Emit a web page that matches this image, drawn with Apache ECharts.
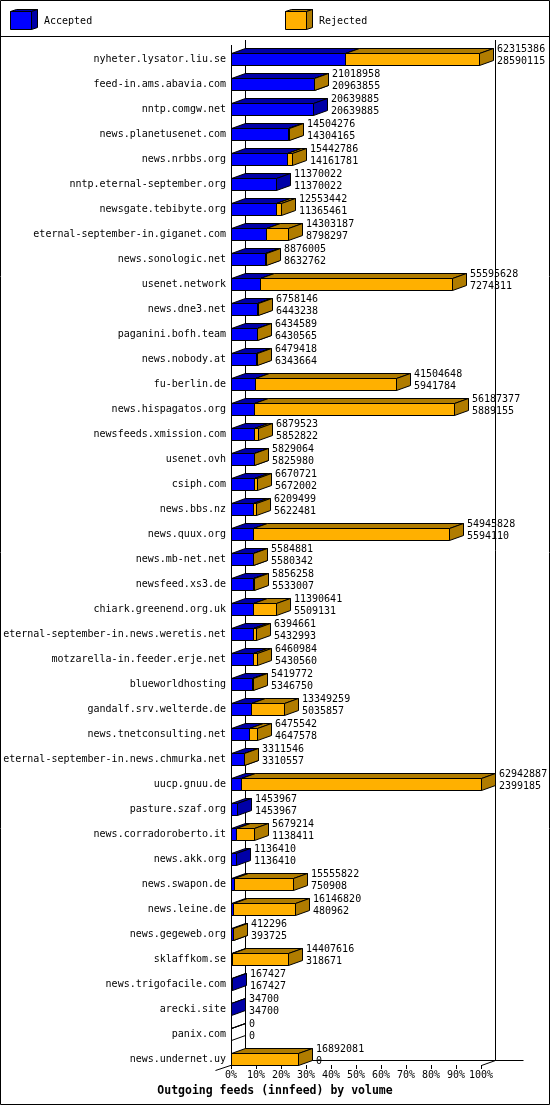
<!DOCTYPE html>
<html><head><meta charset="utf-8">
<script src="https://cdn.jsdelivr.net/npm/echarts@6/dist/echarts.min.js"></script>
<style>html,body{margin:0;padding:0;background:#fff}#c{width:550px;height:1105px}</style>
</head><body><div id="c"></div>
<script>
const hosts = ["nyheter.lysator.liu.se","feed-in.ams.abavia.com","nntp.comgw.net","news.planetusenet.com","news.nrbbs.org","nntp.eternal-september.org","newsgate.tebibyte.org","eternal-september-in.giganet.com","news.sonologic.net","usenet.network","news.dne3.net","paganini.bofh.team","news.nobody.at","fu-berlin.de","news.hispagatos.org","newsfeeds.xmission.com","usenet.ovh","csiph.com","news.bbs.nz","news.quux.org","news.mb-net.net","newsfeed.xs3.de","chiark.greenend.org.uk","eternal-september-in.news.weretis.net","motzarella-in.feeder.erje.net","blueworldhosting","gandalf.srv.welterde.de","news.tnetconsulting.net","eternal-september-in.news.chmurka.net","uucp.gnuu.de","pasture.szaf.org","news.corradoroberto.it","news.akk.org","news.swapon.de","news.leine.de","news.gegeweb.org","sklaffkom.se","news.trigofacile.com","arecki.site","panix.com","news.undernet.uy"];
const offered = [62315386,21018958,20639885,14504276,15442786,11370022,12553442,14303187,8876005,55595628,6758146,6434589,6479418,41504648,56187377,6879523,5829064,6670721,6209499,54945828,5584881,5856258,11390641,6394661,6460984,5419772,13349259,6475542,3311546,62942887,1453967,5679214,1136410,15555822,16146820,412296,14407616,167427,34700,0,16892081];
const accepted = [28590115,20963855,20639885,14304165,14161781,11370022,11365461,8798297,8632762,7274311,6443238,6430565,6343664,5941784,5889155,5852822,5825980,5672002,5622481,5594110,5580342,5533007,5509131,5432993,5430560,5346750,5035857,4647578,3310557,2399185,1453967,1138411,1136410,750908,480962,393725,318671,167427,34700,0,0];
const tickLabels = ["0%","10%","20%","30%","40%","50%","60%","70%","80%","90%","100%"];
const seriesNames = ["Accepted","Rejected"];
const titleText = "Outgoing feeds (innfeed) by volume";

const maxVal = Math.max.apply(null, offered);
const rows = hosts.map((h,i)=>[accepted[i]/maxVal*100, offered[i]/maxVal*100, i]);

const FONT = '10px "DejaVu Sans Mono"';
const BLUE = '#0000ff', BLUE_D = '#0000a8', ORG = '#ffb000', ORG_D = '#b07c00';
const D = 14, H = 5;

function box(x0, x1, cy, front, dark) {
  const t = cy - 6 + 0.5, b = cy + 6 + 0.5;
  const a = x0 + 0.5, e = x1 + 0.5;
  const st = {stroke:'#000', lineWidth:1};
  return [
    {type:'polygon', shape:{points:[[a,t],[e,t],[e,b],[a,b]]}, style:Object.assign({fill:front}, st)},
    {type:'polygon', shape:{points:[[a,t],[a+D,t-H],[e+D,t-H],[e,t]]}, style:Object.assign({fill:dark}, st)},
    {type:'polygon', shape:{points:[[e,t],[e+D,t-H],[e+D,b-H],[e,b]]}, style:Object.assign({fill:dark}, st)}
  ];
}

function renderFrame(params, api) {
  const n = hosts.length - 1;
  const pT = api.coord([0, 0]), pB = api.coord([0, n]), pR = api.coord([100, n]);
  const x0 = Math.round(pT[0]) + 0.5, xr = Math.round(pR[0]) + 0.5;
  const yT = Math.round(pT[1]), yB = Math.round(pB[1]);
  const ls = {stroke:'#000', lineWidth:1};
  const L = (x1,y1,x2,y2)=>({type:'line', shape:{x1,y1,x2,y2}, style:ls});
  return {type:'group', children:[
    L(x0, yT-14, x0, yB+6.5),
    L(x0+D, yT-19, x0+D, yB+1.5),
    L(xr+D, yT-19, xr+D, yB+1.5),
    L(x0+D, yB+1.5, xr+D+28, yB+1.5),
    L(x0-16, yB+11.5, x0+D, yB+1.5),
    L(xr, yB+6.5, xr+D, yB+1.5)
  ]};
}

function renderAccepted(params, api) {
  const row = api.value(2), a = api.value(0);
  if (a <= 0) return null;
  const p0 = api.coord([0,row]), p1 = api.coord([a,row]);
  return {type:'group', children: box(Math.round(p0[0]), Math.round(p1[0]), Math.round(p0[1]), BLUE, BLUE_D)};
}

function renderRejected(params, api) {
  const row = api.value(2), a = api.value(0), t = api.value(1);
  const pa = api.coord([a,row]), pt = api.coord([t,row]);
  const cy = Math.round(pa[1]);
  const xa = Math.round(pa[0]), xt = Math.round(pt[0]);
  let children = [];
  if (t > a) children = box(xa, xt, cy, ORG, ORG_D);
  else if (t <= 0) children = box(xa, xt, cy, 'none', 'none');
  const lx = xt + D + 4;
  children.push({type:'text', x:lx, y:cy-9.5, style:{text:String(offered[row]), fill:'#000', font:FONT, align:'left', verticalAlign:'middle'}});
  children.push({type:'text', x:lx, y:cy+2, style:{text:String(accepted[row]), fill:'#000', font:FONT, align:'left', verticalAlign:'middle'}});
  return {type:'group', children};
}

function cube(x, front, dark) {
  return [
    {type:'polygon', shape:{points:[[x+0.5,11.5],[x+21.5,11.5],[x+21.5,29.5],[x+0.5,29.5]]}, style:{fill:front, stroke:'#000', lineWidth:1}},
    {type:'polygon', shape:{points:[[x+0.5,11.5],[x+6.5,9.5],[x+27.5,9.5],[x+21.5,11.5]]}, style:{fill:dark, stroke:'#000', lineWidth:1}},
    {type:'polygon', shape:{points:[[x+21.5,11.5],[x+27.5,9.5],[x+27.5,27.5],[x+21.5,29.5]]}, style:{fill:dark, stroke:'#000', lineWidth:1}}
  ];
}

const chart = echarts.init(document.getElementById('c'), null, {renderer:'canvas'});
chart.setOption({
  animation:false,
  backgroundColor:'#fff',
  title:{text:titleText, left:'center', top:1085, padding:0,
    textStyle:{fontFamily:'DejaVu Sans Mono', fontWeight:'bold', fontSize:11.5, color:'#000'}},
  grid:{left:231, right:69, top:46.5, bottom:33.5, containLabel:false},
  xAxis:{type:'value', min:0, max:100, interval:10, position:'bottom', offset:-6.5,
    axisLine:{show:false}, splitLine:{show:false},
    axisTick:{show:true, length:4, lineStyle:{color:'#000', width:1}},
    axisLabel:{margin:5, color:'#000', fontFamily:'DejaVu Sans Mono', fontSize:10,
      formatter:(v)=>tickLabels[Math.round(v/10)]}},
  yAxis:{type:'category', data:hosts, inverse:true,
    axisLine:{show:false}, axisTick:{show:false}, splitLine:{show:false},
    axisLabel:{margin:5, color:'#000', fontFamily:'DejaVu Sans Mono', fontSize:10, interval:0}},
  graphic:[
    {type:'rect', shape:{x:0.5,y:0.5,width:549,height:1104}, style:{fill:'none', stroke:'#000', lineWidth:1}, z:100},
    {type:'line', shape:{x1:0,y1:36.5,x2:550,y2:36.5}, style:{stroke:'#000', lineWidth:1}, z:100},
    {type:'group', children:cube(10, BLUE, BLUE_D)},
    {type:'text', x:44, y:21, style:{text:seriesNames[0], fill:'#000', font:FONT, verticalAlign:'middle'}},
    {type:'group', children:cube(285, ORG, ORG_D)},
    {type:'text', x:319, y:21, style:{text:seriesNames[1], fill:'#000', font:FONT, verticalAlign:'middle'}}
  ],
  series:[
    {type:'custom', name:'frame', data:[[0,0,0]], encode:{x:0,y:2}, renderItem:renderFrame, clip:false, silent:true},
    {type:'custom', name:seriesNames[0], data:rows, encode:{x:[0,1], y:2}, renderItem:renderAccepted, clip:false},
    {type:'custom', name:seriesNames[1], data:rows, encode:{x:[0,1], y:2}, renderItem:renderRejected, clip:false}
  ]
});
</script></body></html>
